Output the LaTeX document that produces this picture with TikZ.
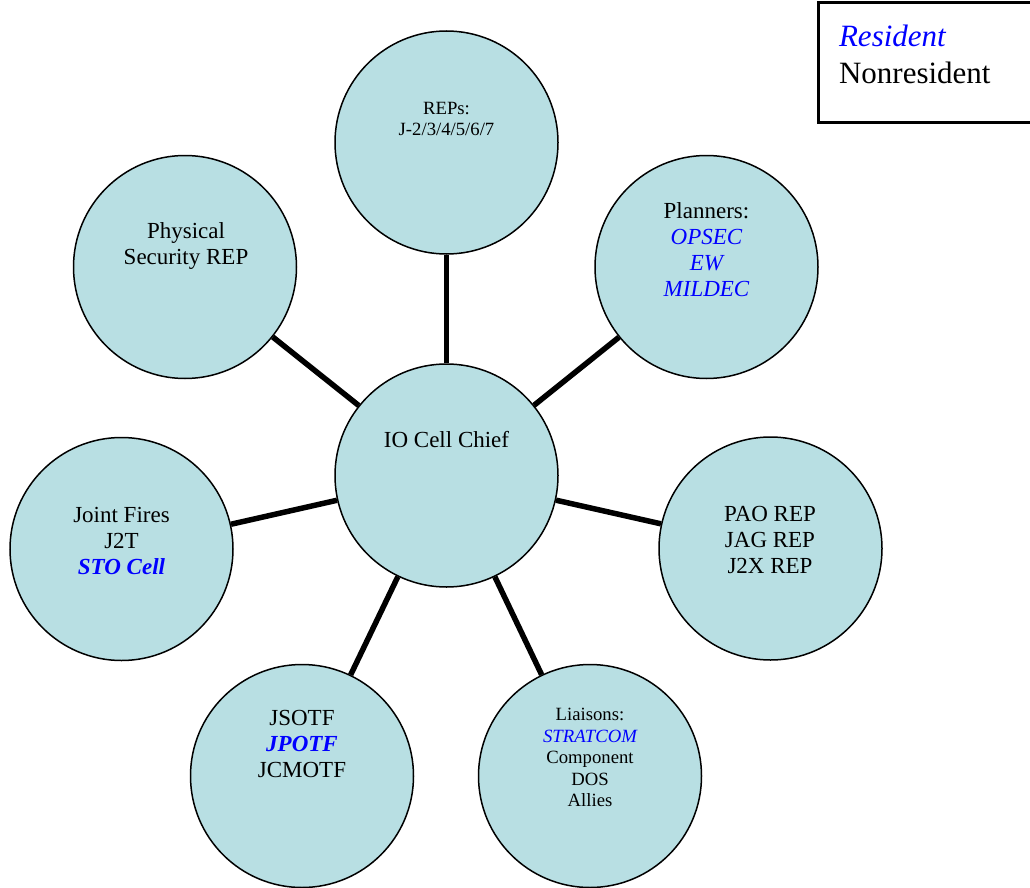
\documentclass[tikz,border=0pt]{standalone}
\usepackage{fontspec}
\setmainfont{Liberation Serif}
\usepackage{tikz}
\usetikzlibrary{shapes}
\usetikzlibrary{positioning}

\definecolor{cellfill}{RGB}{184,223,227}
\definecolor{resblue}{RGB}{0,0,255}
\newcommand{\resident}[1]{{\color{resblue}\itshape #1}}
\newcommand{\residentbf}[1]{{\color{resblue}\bfseries\itshape #1}}

\begin{document}
\begin{tikzpicture}[x=1pt, y=-1pt,
    bubble/.style={circle, draw, line width=1.5pt, fill=cellfill, minimum size=223pt, inner sep=0pt},
    txt/.style={align=center, font=\fontsize{23}{26}\selectfont},
    smalltxt/.style={align=center, font=\fontsize{18.7}{21.5}\selectfont},
    link/.style={line width=5.5pt}]
    \path[use as bounding box] (0, 0) rectangle (1030, 888);

    \node[bubble] (chief)    at (446.5, 475.5) {};
    \node[bubble] (reps)     at (446.5, 142.5) {};
    \node[bubble] (planners) at (706.5, 267)   {};
    \node[bubble] (physec)   at (185, 267)     {};
    \node[bubble] (fires)    at (121.5, 549)   {};
    \node[bubble] (pao)      at (770.5, 548.5) {};
    \node[bubble] (jsotf)    at (302, 776)     {};
    \node[bubble] (liaisons) at (590, 776)     {};

    \draw[link] (chief) -- (reps);
    \draw[link] (chief) -- (planners);
    \draw[link] (chief) -- (pao);
    \draw[link] (chief) -- (liaisons);
    \draw[link] (chief) -- (jsotf);
    \draw[link] (chief) -- (fires);
    \draw[link] (chief) -- (physec);

    \node[txt]      (chief-t)    at (446.5, 440)   {IO Cell Chief};
    \node[smalltxt] (reps-t)     at (446.5, 119)   {REPs:\\J-2/3/4/5/6/7};
    \node[txt]      (planners-t) at (706.5, 249.5) {Planners:\\\resident{OPSEC}\\\resident{EW}\\\resident{MILDEC}};
    \node[txt]      (physec-t)   at (186, 246)     {Physical\\Security REP};
    \node[txt]      (fires-t)    at (121.5, 541)   {Joint Fires\\J2T\\\residentbf{STO Cell}};
    \node[txt]      (pao-t)      at (770, 540)     {PAO REP\\JAG REP\\J2X REP};
    \node[txt]      (jsotf-t)    at (302, 743.5)   {JSOTF\\\residentbf{JPOTF}\\JCMOTF};
    \node[smalltxt] (liaisons-t) at (590, 757.5)   {Liaisons:\\\resident{STRATCOM}\\Component\\DOS\\Allies};

    \draw[line width=3pt] (1032, 3) -- (818, 3) -- (818, 123) -- (1032, 123);
    \node[anchor=west, align=left, font=\fontsize{31}{37}\selectfont] (legend) at (835.5, 54) {\resident{Resident}\\Nonresident};
\end{tikzpicture}
\end{document}
